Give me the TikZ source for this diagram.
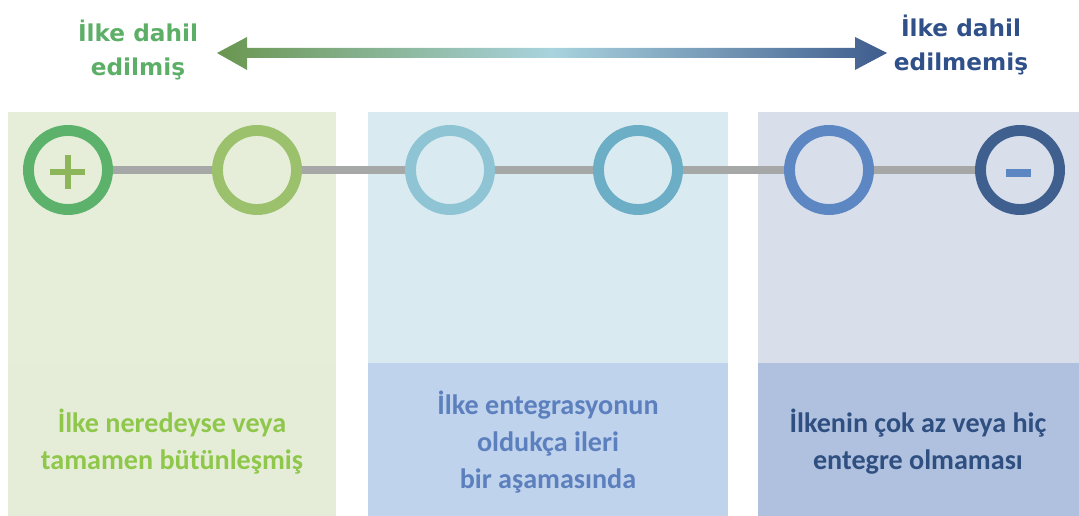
\documentclass[tikz,border=0pt]{standalone}
\usepackage{fontspec}
\setmainfont{Carlito}
\newfontfamily\headfont{DejaVu Sans}
\definecolor{inclgreen}{HTML}{5DAF68}
\definecolor{exclblue}{HTML}{2F5088}
\definecolor{arrowgreen}{HTML}{6A9650}
\definecolor{arrowmid}{HTML}{A9D3DE}
\definecolor{arrowblue}{HTML}{3E5C8D}
\definecolor{paneltopA}{HTML}{E6EEDA}
\definecolor{paneltopB}{HTML}{D9EAF0}
\definecolor{paneltopC}{HTML}{D8DFEA}
\definecolor{panellowA}{HTML}{E5EDD8}
\definecolor{panellowB}{HTML}{C0D3EC}
\definecolor{panellowC}{HTML}{AFC1DF}
\definecolor{ringA}{HTML}{5CB26A}
\definecolor{ringB}{HTML}{9CC16C}
\definecolor{ringC}{HTML}{8FC4D5}
\definecolor{ringD}{HTML}{6BAEC6}
\definecolor{ringE}{HTML}{5C87C3}
\definecolor{ringF}{HTML}{3F5F8F}
\definecolor{plusgreen}{HTML}{8DB65A}
\definecolor{linkgray}{HTML}{A6A8A8}
\definecolor{textA}{HTML}{8FC74B}
\definecolor{textB}{HTML}{5C7FBE}
\definecolor{textC}{HTML}{2F4F80}

\begin{document}
\begin{tikzpicture}[x=0.01cm, y=-0.01cm,
	ring/.style={circle, draw=#1, line width=3.1pt, minimum size=0.79cm, inner sep=0pt},
	link/.style={line width=2pt, color=linkgray},
	headline/.style={align=center, font=\headfont\bfseries\fontsize{6.6}{9.7}\selectfont},
	stage/.style={align=center, font=\bfseries\fontsize{8}{10.5}\selectfont}]
			%%%%% START %%%%%
			
			\useasboundingbox (0, 0) rectangle (1079, 516);
			
			% panels
			\fill[paneltopA] (8, 112) rectangle (336, 363);
			\fill[panellowA] (8, 363) rectangle (336, 516);
			\fill[paneltopB] (368, 112) rectangle (728, 363);
			\fill[panellowB] (368, 363) rectangle (728, 516);
			\fill[paneltopC] (758, 112) rectangle (1079, 363);
			\fill[panellowC] (758, 363) rectangle (1079, 516);
			
			% double arrow
			\shade[left color=arrowgreen, right color=arrowblue, middle color=arrowmid]
				(217, 53) -- (247, 37) -- (247, 48) -- (855, 48) -- (855, 37) -- (887, 53)
				-- (855, 70) -- (855, 58) -- (247, 58) -- (247, 70) -- cycle;
			
			\node[headline, text=inclgreen] (incl) at (138, 50) {İlke dahil\\edilmiş};
			\node[headline, text=exclblue] (excl) at (961, 45) {İlke dahil\\edilmemiş};
			
			% scale
			\node[ring=ringA] (r1) at (68, 170) {};
			\node[ring=ringB] (r2) at (257, 170) {};
			\node[ring=ringC] (r3) at (450, 170) {};
			\node[ring=ringD] (r4) at (638, 170) {};
			\node[ring=ringE] (r5) at (829, 170) {};
			\node[ring=ringF] (r6) at (1020, 170) {};
			
			\draw[link] (r1) -- (r2);
			\draw[link] (r2) -- (r3);
			\draw[link] (r3) -- (r4);
			\draw[link] (r4) -- (r5);
			\draw[link] (r5) -- (r6);
			
			\fill[color=plusgreen] (50, 169) rectangle (85, 175);
			\fill[color=plusgreen] (64.5, 155) rectangle (70.5, 189);
			\fill[color=ringE] (1006, 169.5) rectangle (1031, 177);
			
			% stages
			\node[stage, text=textA] (s1) at (172, 442) {İlke neredeyse veya\\tamamen bütünleşmiş};
			\node[stage, text=textB] (s2) at (548, 442) {İlke entegrasyonun\\oldukça ileri\\bir aşamasında};
			\node[stage, text=textC] (s3) at (918, 442) {İlkenin çok az veya hiç\\entegre olmaması};
			
			%%%%% END %%%%%
		\end{tikzpicture}
\end{document}
